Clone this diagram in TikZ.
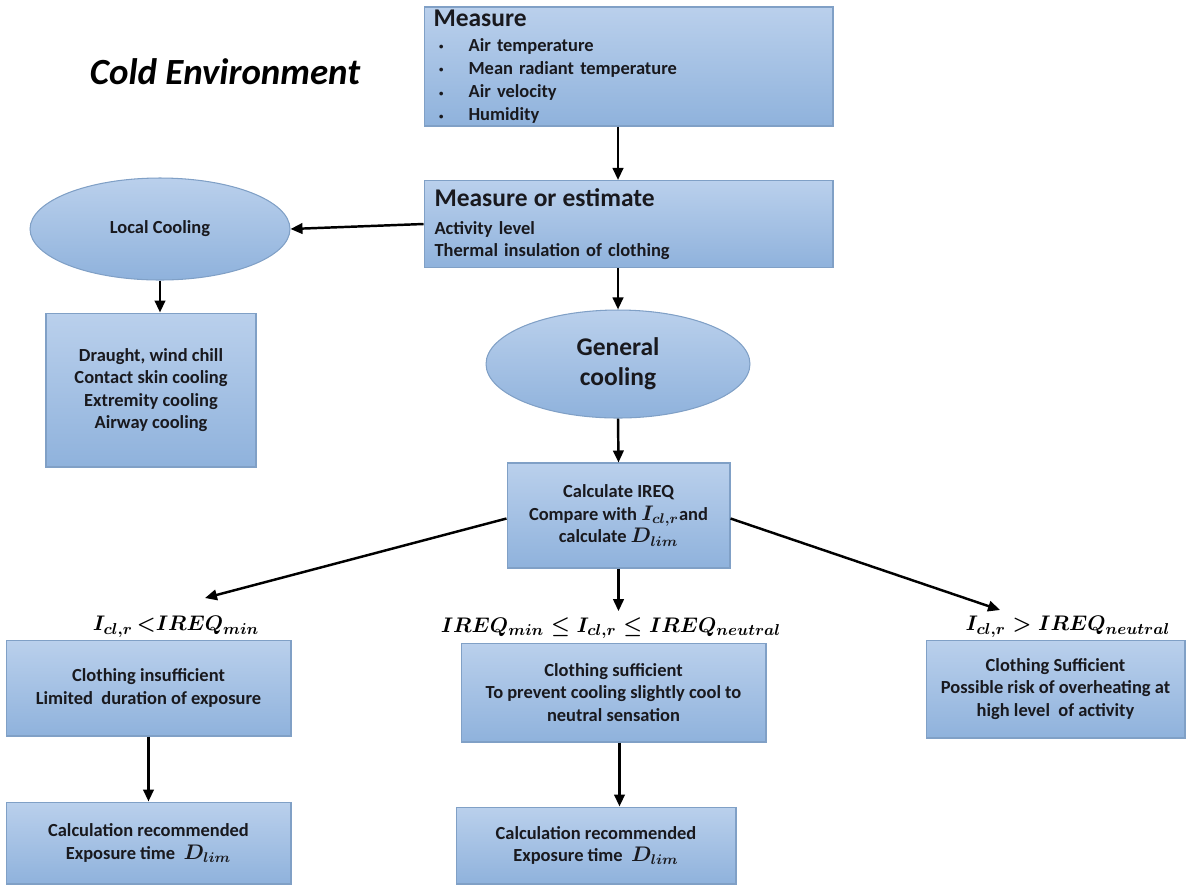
\documentclass[tikz,border=0pt]{standalone}
\usepackage{fontspec}
\setmainfont{Carlito}
\usepackage{amsmath}
\usetikzlibrary{positioning,arrows.meta,shapes.geometric,calc}

\definecolor{boxtop}{RGB}{186,208,236}
\definecolor{boxbot}{RGB}{143,178,220}
\definecolor{boxline}{RGB}{128,160,198}
\definecolor{inktxt}{RGB}{25,25,30}

\newcommand{\bm}[1]{{\fontsize{12}{12.8}\selectfont\boldmath$#1$}}
\newcommand{\blt}{\makebox[1.9em][l]{\hspace{0.3em}\raisebox{0.15ex}{\tiny\textbullet}}}

\begin{document}
\begin{tikzpicture}[
        x=0.02cm, y=-0.02cm,
        box/.style={rectangle, draw=boxline, line width=0.6pt, top color=boxtop, bottom color=boxbot,
            align=center, text=inktxt, font=\bfseries\fontsize{10.5}{12.8}\selectfont},
        blob/.style={box, ellipse, inner sep=0pt},
        head/.style={font=\bfseries\fontsize{14.5}{17}\selectfont},
        cond/.style={font=\fontsize{12.8}{15}\selectfont\boldmath, text=black},
        arr/.style={-{Triangle[length=2.4mm,width=2.1mm]}, line width=1.4pt},
    ]
    \useasboundingbox (0,0) rectangle (1192,887);

    % Title
    \node[font=\bfseries\itshape\fontsize{21}{25}\selectfont] (title) at (225,72) {Cold Environment};

    % Measurements
    \node[box, minimum width=8.18cm, minimum height=2.38cm, text width=7.8cm, align=left, inner ysep=0pt,
          font=\bfseries\fontsize{10.5}{13.2}\selectfont] (measure) at (628.5,66.5)
        {{\fontsize{14.5}{17}\selectfont Measure}\\[1pt]
         \blt Air temperature\\
         \blt Mean radiant temperature\\
         \blt Air velocity\\
         \blt Humidity};
    \node[box, minimum width=8.18cm, minimum height=1.74cm, text width=7.76cm, align=left] (estimate) at (628.5,224)
        {{\fontsize{14.5}{17}\selectfont Measure or estimate}\\[3pt]
         Activity level\\
         Thermal insulation of clothing};

    % Local branch
    \node[blob, minimum width=5.2cm, minimum height=2.04cm] (local) at (160,229) {Local Cooling};
    \node[box, minimum width=4.2cm, minimum height=3.08cm] (draught) at (151,390)
        {Draught, wind chill\\Contact skin cooling\\Extremity cooling\\Airway cooling};

    % General branch
    \node[blob, head, minimum width=5.28cm, minimum height=2.16cm] (general) at (618,364) {General\\cooling};
    \node[box, minimum width=4.46cm, minimum height=2.1cm] (calc) at (618.5,515.5)
        {Calculate IREQ\\Compare with \bm{I_{cl,r}}and\\calculate \bm{D_{lim}}};

    % Conditions
    \node[cond] (lblL) at (176,627) {$I_{cl,r}\,{<}IREQ_{min}$};
    \node[cond] (lblM) at (611,628) {$IREQ_{min} \le I_{cl,r} \le IREQ_{neutral}$};
    \node[cond] (lblR) at (1068,627) {$I_{cl,r} > IREQ_{neutral}$};
    \coordinate (tipL) at (205,598);
    \coordinate (tipR) at (1000,610);

    \node[box, minimum width=5.7cm, minimum height=1.92cm] (insuff) at (148.5,688)
        {Clothing insufficient\\Limited\ \ duration of exposure};
    \node[box, minimum width=6.1cm, minimum height=1.98cm] (suff) at (613.5,692.5)
        {Clothing sufficient\\To prevent cooling slightly cool to\\neutral sensation};
    \node[box, minimum width=5.18cm, minimum height=1.96cm] (over) at (1055.5,689)
        {Clothing Sufficient\\Possible risk of overheating at\\high level\ \ of activity};

    \node[box, minimum width=5.7cm, minimum height=1.64cm] (recL) at (148.5,843)
        {Calculation recommended\\Exposure time\ \ \bm{D_{lim}}};
    \node[box, minimum width=5.6cm, minimum height=1.54cm] (recM) at (596,845.5)
        {Calculation recommended\\Exposure time\ \ \bm{D_{lim}}};

    % Connectors
    \draw[arr] (general |- measure.south) -- (general |- estimate.north);
    \draw[arr] (estimate.west) -- (local.east);
    \draw[arr] (local.south) -- (local.south |- draught.north);
    \draw[arr] (general |- estimate.south) -- (general.north);
    \draw[arr] (general.south) -- (calc.north);
    \draw[arr] ($(calc.west)+(0,3)$) -- (tipL);
    \draw[arr] ($(calc.east)+(0,3)$) -- (tipR);
    \draw[arr] (calc.south) -- (calc.south |- lblM.north);
    \draw[arr] (insuff.south) -- (recL.north);
    \draw[arr] ($(suff.south)+(6,0)$) -- ($(suff.south |- recM.north)+(6,0)$);

\end{tikzpicture}
\end{document}
